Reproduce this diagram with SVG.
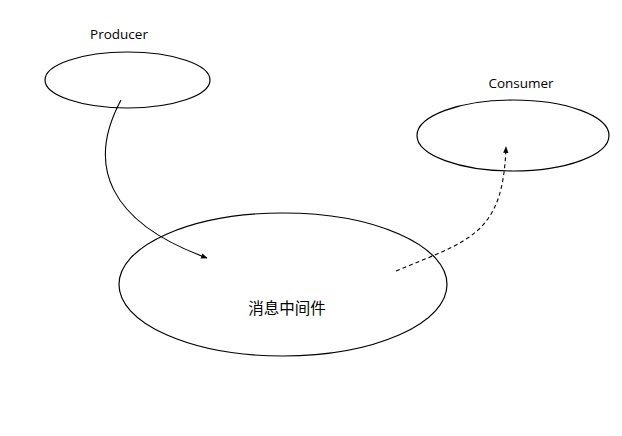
<svg xmlns="http://www.w3.org/2000/svg" width="622" height="436" viewBox="0 0 622 436">
<defs>
<style>
.node{fill:none;stroke:#000;stroke-width:1.2}
.lbl{font-family:"Open Sans","Noto Sans CJK SC",sans-serif;font-size:13.5px;fill:#000;text-anchor:middle}
.edge{fill:none;stroke:#000;stroke-width:1.1}
</style>
<marker id="ah" viewBox="0 0 10 10" refX="9" refY="5" markerWidth="6" markerHeight="6" orient="auto">
<path d="M0,1 L10,5 L0,9 z" fill="#000"/>
</marker>
</defs>
<rect width="622" height="436" fill="#fff"/>
<g id="producer">
<ellipse class="node" cx="127.5" cy="80" rx="82.5" ry="28"/>
<text class="lbl" x="119" y="39">Producer</text>
</g>
<g id="consumer">
<ellipse class="node" cx="513" cy="135.5" rx="96" ry="35.5"/>
<text class="lbl" x="521" y="88">Consumer</text>
</g>
<g id="middleware">
<ellipse class="node" cx="283" cy="284.5" rx="164" ry="71.5"/>
<text class="lbl" x="287" y="314" style="font-size:15.5px">消息中间件</text>
</g>
<g id="connectors">
<path class="edge" d="M121,100 C86,165 108,222 207,258" marker-end="url(#ah)"/>
<path class="edge" d="M396,271 C470,240 503,235 506,147" stroke-dasharray="4,3" marker-end="url(#ah)"/>
</g>
</svg>
